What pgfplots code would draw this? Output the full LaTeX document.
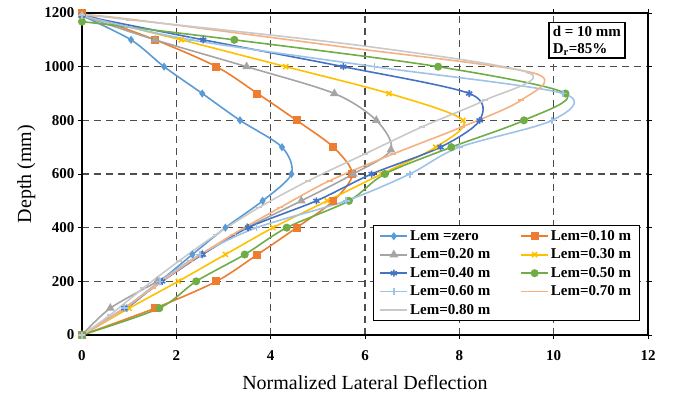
\documentclass[border=0pt]{standalone}
\usepackage{pgfplots}
\pgfplotsset{compat=1.18}
\usepackage{fontspec}
\setmainfont{Liberation Serif}
\definecolor{c1}{HTML}{5B9BD5}
\definecolor{c2}{HTML}{ED7D31}
\definecolor{c3}{HTML}{A5A5A5}
\definecolor{c4}{HTML}{FFC000}
\definecolor{c5}{HTML}{4472C4}
\definecolor{c6}{HTML}{70AD47}
\definecolor{c7}{HTML}{9DC3E6}
\definecolor{c8}{HTML}{F4B183}
\definecolor{c9}{HTML}{C9C9C9}
\definecolor{gridc}{HTML}{4D4D4D}
\begin{document}
\begin{tikzpicture}
\begin{axis}[
  scale only axis,
  width=566pt, height=322pt,
  xmin=0, xmax=12, ymin=0, ymax=1200,
  xtick={0,2,...,12}, ytick={0,200,...,1200},
  /pgf/number format/assume math mode=true,
  /pgf/number format/1000 sep={},
  ticklabel style={font=\rmfamily\bfseries\fontsize{15}{15}\selectfont},
  xticklabel style={yshift=-8pt},
  tick align=outside, major tick length=4pt,
  tick style={black, line width=1pt},
  axis line style={black, line width=1.5pt},
  grid=major,
  major grid style={gridc, dash pattern=on 7pt off 5pt, line width=1.5pt},
  xlabel={Normalized Lateral Deflection},
  ylabel={Depth (mm)},
  label style={font=\rmfamily\fontsize{20}{20}\selectfont},
  xlabel style={at={(axis description cs:0.5,-0.168)}, anchor=base},
  ylabel style={at={(axis description cs:-0.090,0.5)}, anchor=base, rotate=0},
  legend style={at={(axis cs:6.17,410)}, anchor=north west, draw=black, line width=1pt,
    fill=white, font=\rmfamily\bfseries\fontsize{15}{17}\selectfont, inner xsep=6pt, inner ysep=3pt,
    row sep=3pt,
    /tikz/every even column/.append style={column sep=28pt}},
  legend columns=2,
  legend cell align=left,
  legend image code/.code={\draw[mark repeat=2,mark phase=2] plot coordinates {(0pt,0pt) (13.5pt,0pt) (27pt,0pt)};},
  every axis plot/.append style={line width=1.6pt, smooth, tension=0.5},
]
\addplot[c1, mark=diamond*, mark size=2.8pt, mark options={solid}] coordinates {
(0,0) (0.95,100) (1.65,200) (2.34,300) (3.04,400) (3.83,500) (4.44,600) (4.24,700) (3.35,800) (2.55,900) (1.74,1000) (1.04,1100) (0,1190)};
\addlegendentry{Lem =zero}
\addplot[c2, mark=square*, mark size=3.2pt] coordinates {
(0,0) (1.55,100) (2.85,200) (3.72,300) (4.55,400) (5.33,500) (5.73,600) (5.33,700) (4.55,800) (3.72,900) (2.85,1000) (1.55,1100) (0,1200)};
\addlegendentry{Lem=0.10 m}
\addplot[c3, mark=triangle*, mark size=3.5pt] coordinates {
(0,0) (0.6,100) (1.6,200) (2.55,300) (3.5,400) (4.65,500) (5.75,600) (6.55,690) (6.24,800) (5.35,900) (3.49,1000) (1.55,1100) (0,1190)};
\addlegendentry{Lem=0.20 m}
\addplot[c4, mark=x, mark size=3.5pt] coordinates {
(0,0) (1.0,100) (2.04,200) (3.04,300) (4.05,400) (5.2,500) (6.35,600) (7.5,700) (8.08,800) (6.51,900) (4.32,1000) (2.1,1100) (0,1190)};
\addlegendentry{Lem=0.30 m}
\addplot[c5, mark=asterisk, mark size=3.5pt] coordinates {
(0,0) (0.9,100) (1.7,200) (2.55,300) (3.52,400) (4.97,500) (6.14,600) (7.6,700) (8.43,800) (8.21,900) (5.54,1000) (2.57,1100) (0,1190)};
\addlegendentry{Lem=0.40 m}
\addplot[c6, mark=*, mark size=3.2pt] coordinates {
(0,0) (1.64,100) (2.42,200) (3.45,300) (4.34,400) (5.66,500) (6.42,600) (7.83,700) (9.37,800) (10.25,900) (7.55,1000) (3.23,1100) (0,1168)};
\addlegendentry{Lem=0.50 m}
\addplot[c7, mark=+, mark size=3.5pt] coordinates {
(0,0) (0.9,100) (1.65,200) (2.5,300) (3.7,400) (5.6,500) (6.95,600) (8.0,700) (9.97,800) (10.2,900) (6.2,1000) (2.3,1100) (0,1190)};
\addlegendentry{Lem=0.60 m}
\addplot[c8, mark=-, mark size=3pt] coordinates {
(0,0) (0.7,75) (1.5,175) (2.3,275) (3.2,375) (4.2,475) (5.25,575) (6.6,675) (8.05,775) (9.31,875) (9.6,975) (5.47,1075) (1.1,1175) (0,1195)};
\addlegendentry{Lem=0.70 m}
\addplot[c9, mark=-, mark size=3pt] coordinates {
(0,0) (0.6,75) (1.3,175) (2.05,275) (2.85,375) (3.75,475) (4.8,575) (6.0,675) (7.2,775) (8.54,875) (9.5,975) (6.07,1075) (1.0,1175) (0,1195)};
\addlegendentry{Lem=0.80 m}
\node[draw=black, line width=1.5pt, fill=white, anchor=north west, align=left,
  font=\rmfamily\bfseries\fontsize{15}{17}\selectfont, inner xsep=4pt, inner ysep=3pt]
  at (axis cs:9.88,1167) {d = 10 mm\\D\textsubscript{r}=85\%};
\coordinate (bbll) at (rel axis cs:0,0);
\coordinate (bbur) at (rel axis cs:1,1);
\end{axis}
\path ([shift={(-82pt,-62pt)}]bbll) rectangle ([shift={(26pt,13pt)}]bbur);
\end{tikzpicture}
\end{document}
